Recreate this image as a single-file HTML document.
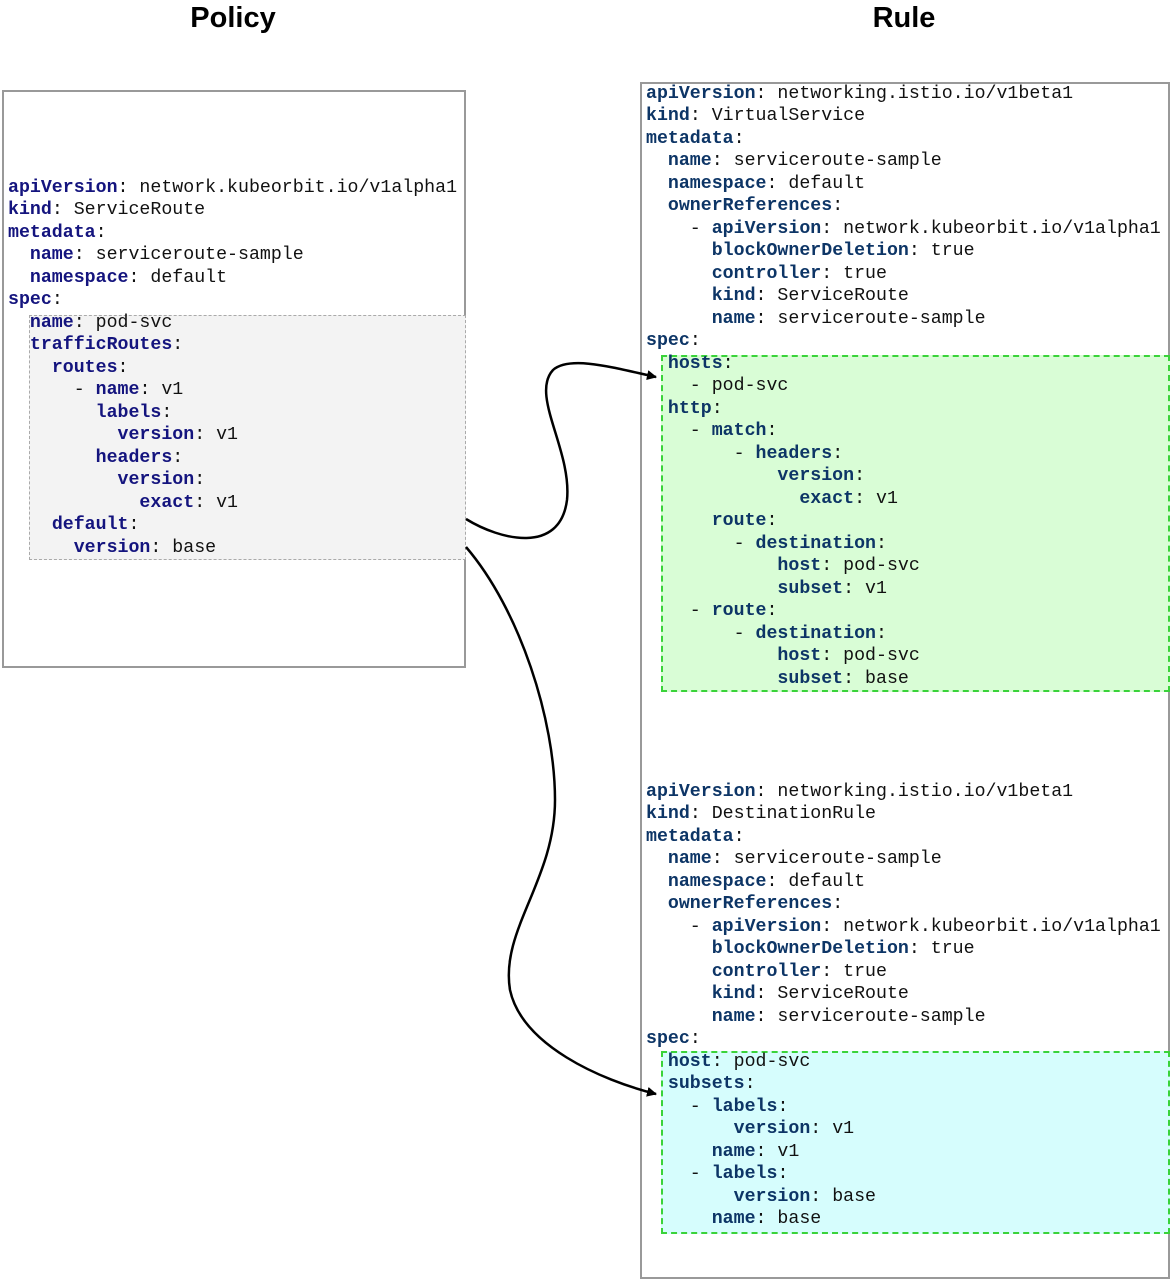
<!DOCTYPE html>
<html><head><meta charset="utf-8"><style>
body{margin:0;width:1171px;height:1280px;background:#fff;position:relative;overflow:hidden;font-family:"Liberation Mono",monospace}
.t{position:absolute;top:2px;font-family:"Liberation Sans Narrow","Liberation Sans",sans-serif;font-weight:bold;font-size:29px;color:#000;transform:translateX(-50%)}
.box{position:absolute;box-sizing:border-box}
pre{position:absolute;margin:0;font-family:"Liberation Mono",monospace;font-size:18.25px;line-height:22.5px;color:#111}
b{color:#14147e}
.g b{color:#0d3566}
</style></head><body>
<div class="t" style="left:233px">Policy</div>
<div class="t" style="left:904px">Rule</div>
<div class="box" style="left:2px;top:90px;width:464px;height:578px;border:2px solid #999"></div>
<div class="box" style="left:29px;top:315px;width:437px;height:245px;border:1px dashed #aaa;background:#f3f3f3"></div>
<div class="box" style="left:640px;top:82px;width:530px;height:1197px;border:2px solid #999"></div>
<div class="box" style="left:661px;top:355px;width:509px;height:337px;border:2px dashed #3ad33a;background:#d9fdd6"></div>
<div class="box" style="left:661px;top:1051px;width:509px;height:183px;border:2px dashed #3ad33a;background:#d6fdfd"></div>
<pre style="left:8px;top:176.75px"><b>apiVersion</b>: network.kubeorbit.io/v1alpha1
<b>kind</b>: ServiceRoute
<b>metadata</b>:
  <b>name</b>: serviceroute-sample
  <b>namespace</b>: default
<b>spec</b>:
  <b>name</b>: pod-svc
  <b>trafficRoutes</b>:
    <b>routes</b>:
      - <b>name</b>: v1
        <b>labels</b>:
          <b>version</b>: v1
        <b>headers</b>:
          <b>version</b>:
            <b>exact</b>: v1
    <b>default</b>:
      <b>version</b>: base</pre>
<pre class="g" style="left:646px;top:82.75px"><b>apiVersion</b>: networking.istio.io/v1beta1
<b>kind</b>: VirtualService
<b>metadata</b>:
  <b>name</b>: serviceroute-sample
  <b>namespace</b>: default
  <b>ownerReferences</b>:
    - <b>apiVersion</b>: network.kubeorbit.io/v1alpha1
      <b>blockOwnerDeletion</b>: true
      <b>controller</b>: true
      <b>kind</b>: ServiceRoute
      <b>name</b>: serviceroute-sample
<b>spec</b>:
  <b>hosts</b>:
    - pod-svc
  <b>http</b>:
    - <b>match</b>:
        - <b>headers</b>:
            <b>version</b>:
              <b>exact</b>: v1
      <b>route</b>:
        - <b>destination</b>:
            <b>host</b>: pod-svc
            <b>subset</b>: v1
    - <b>route</b>:
        - <b>destination</b>:
            <b>host</b>: pod-svc
            <b>subset</b>: base</pre>
<pre class="g" style="left:646px;top:780.75px"><b>apiVersion</b>: networking.istio.io/v1beta1
<b>kind</b>: DestinationRule
<b>metadata</b>:
  <b>name</b>: serviceroute-sample
  <b>namespace</b>: default
  <b>ownerReferences</b>:
    - <b>apiVersion</b>: network.kubeorbit.io/v1alpha1
      <b>blockOwnerDeletion</b>: true
      <b>controller</b>: true
      <b>kind</b>: ServiceRoute
      <b>name</b>: serviceroute-sample
<b>spec</b>:
  <b>host</b>: pod-svc
  <b>subsets</b>:
    - <b>labels</b>:
        <b>version</b>: v1
      <b>name</b>: v1
    - <b>labels</b>:
        <b>version</b>: base
      <b>name</b>: base</pre>
<svg width="1171" height="1280" style="position:absolute;left:0;top:0">
<defs><marker id="a" markerWidth="10" markerHeight="10" refX="9" refY="5" orient="auto" markerUnits="userSpaceOnUse" viewBox="0 0 10 10"><path d="M0,0 L10,5 L0,10 z" fill="#000"/></marker></defs>
<g fill="none" stroke="#000" stroke-width="2.5">
<path d="M466,519 C500,540 560,555 567,500 C572,450 530,395 553,370 C570,355 615,368 656,377" marker-end="url(#a)"/>
<path d="M466,547 C520,610 555,720 555,800 C555,880 500,930 510,990 C522,1045 600,1080 656,1094" marker-end="url(#a)"/>
</g></svg>
</body></html>
